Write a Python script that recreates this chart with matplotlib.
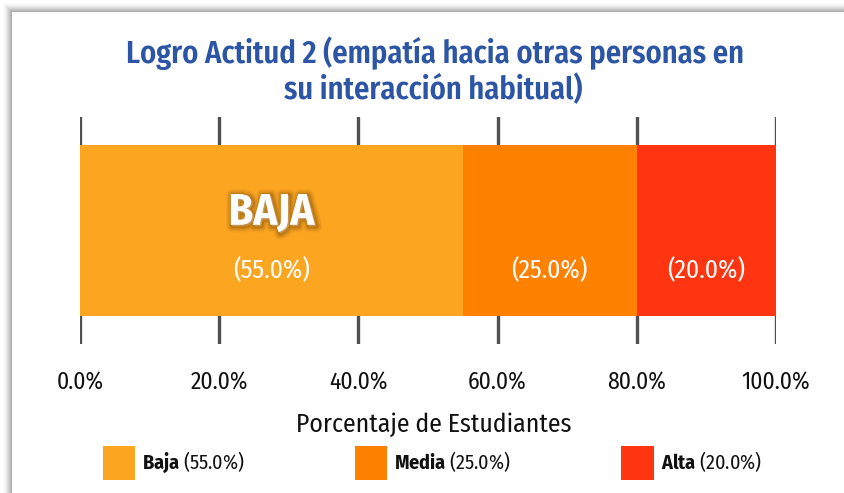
import matplotlib
matplotlib.use('Agg')
import matplotlib.pyplot as plt
import matplotlib.patheffects as pe
from matplotlib.patches import Rectangle, Patch
from matplotlib.ticker import FuncFormatter

FONT = 'Fira Sans Condensed'
plt.rcParams['font.family'] = [FONT, 'DejaVu Sans']
plt.rcParams['mathtext.fontset'] = 'custom'
plt.rcParams['mathtext.rm'] = FONT
plt.rcParams['mathtext.bf'] = FONT + ':bold'

# ---- data ----
categories = ['Baja', 'Media', 'Alta']
values = [55.0, 25.0, 20.0]
colors = ['#FCA521', '#FF8102', '#FF3511']
xticks = [0, 20, 40, 60, 80, 100]
title_lines = ['Logro Actitud 2 (empatía hacia otras personas en', 'su interacción habitual)']
xlabel = 'Porcentaje de Estudiantes'
highlight = 'BAJA'

W, H = 844, 493
fig = plt.figure(figsize=(W / 100, H / 100), dpi=100)
fig.patch.set_facecolor('white')

def fx(px):
    return px / W
def fy(py):
    return 1 - py / H

# card with soft shadow (top/left)
for i in range(9):
    off = 3 + i
    fig.patches.append(Rectangle((fx(off), 0), 1, fy(off), transform=fig.transFigure,
                                 facecolor='black', alpha=0.012 + 0.007 * i, edgecolor='none', zorder=-3))
fig.patches.append(Rectangle((fx(12), 0), 1, fy(12), transform=fig.transFigure,
                             facecolor='white', edgecolor='none', zorder=-2))

ax = fig.add_axes([fx(80), fy(344), fx(776) - fx(80), fy(117) - fy(344)])
ax.set_zorder(1)
ax.set_facecolor('none')
ax.set_xlim(0, 100)
ax.set_ylim(-0.5, 0.5)

left = 0
for cat, v, c in zip(categories, values, colors):
    ax.barh(0, v, left=left, height=0.75, color=c, edgecolor='none', zorder=2)
    ax.text(left + v / 2, -0.175, f'({v:.1f}%)', ha='center', va='center',
            color='white', fontsize=18.5, zorder=3)
    left += v

glow = [pe.Stroke(linewidth=lw, foreground='#5a3300', alpha=a, offset=(1, -1))
        for lw, a in [(9, 0.06), (7, 0.08), (5, 0.12), (3, 0.18)]]
ax.text(values[0] / 2, 0.075, highlight, ha='center', va='center', color='white',
        fontsize=32, fontweight='bold', zorder=4,
        path_effects=glow + [pe.Normal()])

ax.set_xticks(xticks)
ax.xaxis.set_major_formatter(FuncFormatter(lambda x, p: f'{x:.1f}%'))
ax.set_yticks([])
ax.tick_params(axis='x', length=0, pad=20, labelsize=17, labelcolor='#111111')
ax.grid(axis='x', color='#505050', linewidth=2.4, zorder=1)
ax.set_axisbelow(True)
for s in ax.spines.values():
    s.set_visible(False)

fig.text(fx(434), fy(425), xlabel, ha='center', va='center', fontsize=18.5, color='#111111')

tcol = '#2C55A5'
fig.text(fx(435), fy(63), title_lines[0], ha='center', va='baseline', fontsize=22,
         fontweight='semibold', color=tcol)
fig.text(fx(433), fy(99), title_lines[1], ha='center', va='baseline', fontsize=22,
         fontweight='semibold', color=tcol)

handles = [Patch(facecolor=c, edgecolor='none') for c in colors]
labels = [rf'$\mathbf{{{cat}}}$ ({v:.1f}%)' for cat, v in zip(categories, values)]
leg = fig.legend(handles, labels, loc='center', bbox_to_anchor=(fx(432), fy(463)), ncol=3,
                 frameon=False, fontsize=14.5, handlelength=1.62, handleheight=2.15,
                 handletextpad=0.35, columnspacing=5.45, borderpad=0, labelcolor='#111111')

fig.savefig('out.png', dpi=100)
